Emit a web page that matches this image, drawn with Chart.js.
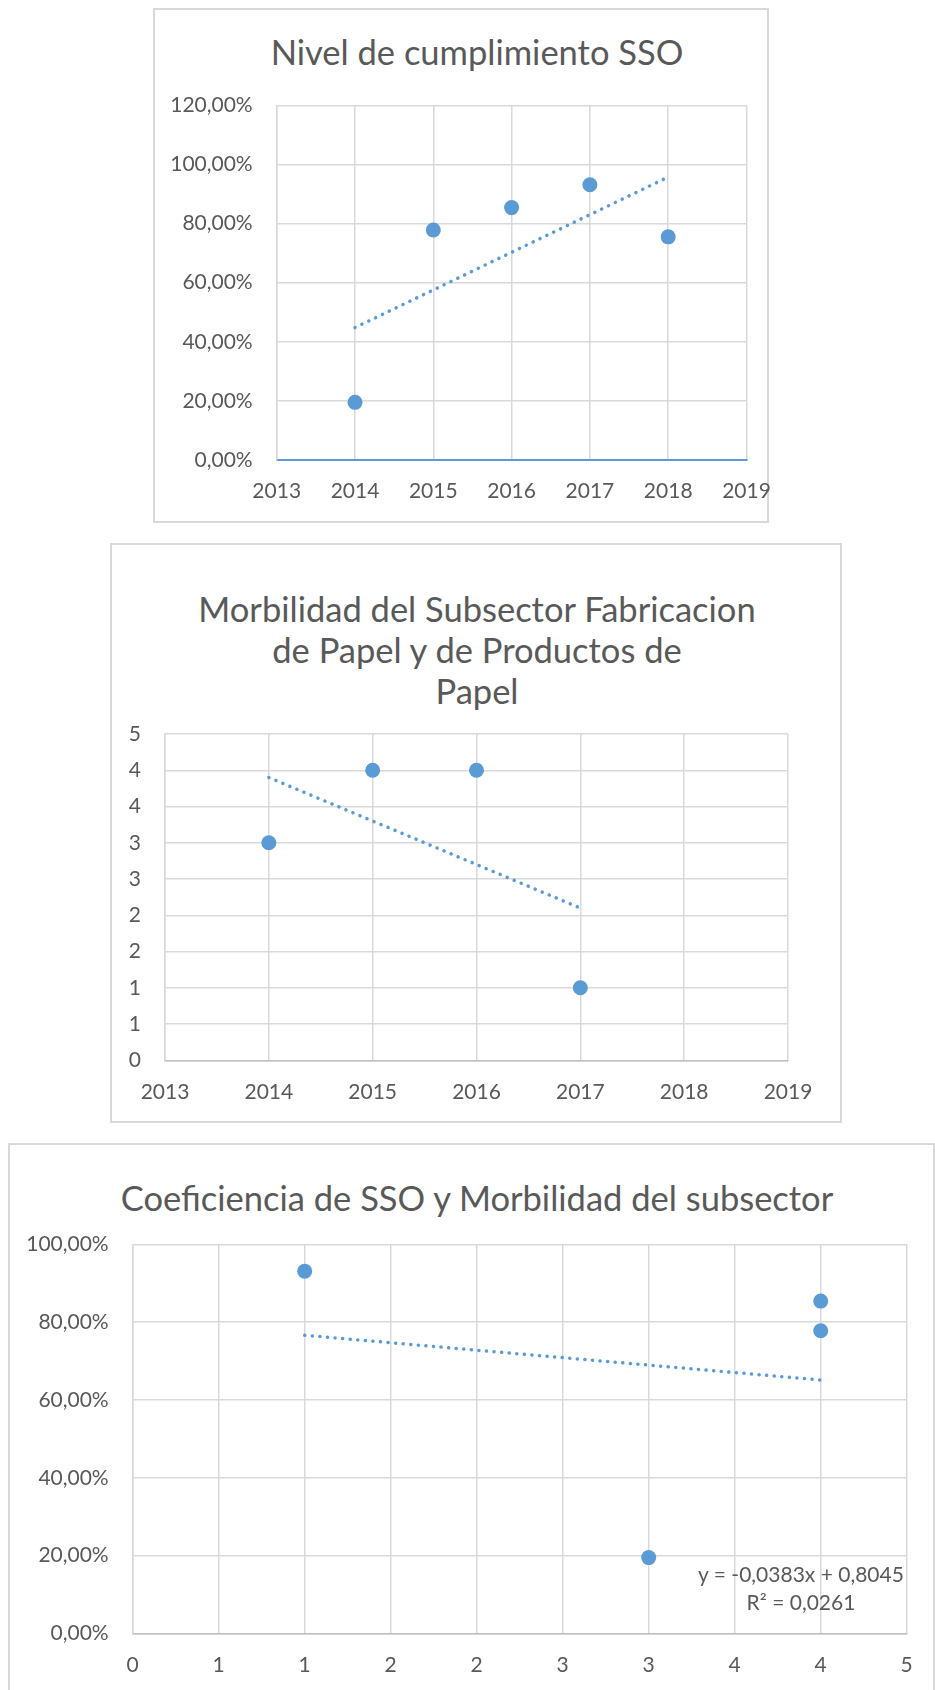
<!DOCTYPE html>
<html>
<head>
<meta charset="utf-8">
<title>Cumplimiento SSO y Morbilidad</title>
<script src="https://cdn.jsdelivr.net/npm/chart.js@4.4.1/dist/chart.umd.min.js"></script>
<style>
    body { margin: 0; background: #fff; width: 935px; height: 1690px; overflow: hidden; position: relative; font-family: Lato, "Open Sans", sans-serif; }
    .marco { position: absolute; border: 2px solid #D9D9D9; box-sizing: border-box; }
    .titulo { position: absolute; width: 900px; text-align: center; color: #595959; font-size: 34.5px; line-height: 41px; white-space: nowrap; }
    .ecuacion { position: absolute; width: 300px; text-align: center; color: #595959; font-size: 21px; line-height: 28px; }
    canvas { position: absolute; left: 0; }
</style>
</head>
<body>

<div class="marco" style="left:153px;top:8px;width:616px;height:515px"></div>
<div class="marco" style="left:110px;top:543px;width:732px;height:580px"></div>
<div class="marco" style="left:8px;top:1143px;width:927px;height:600px"></div>

<div class="titulo" style="left:27px;top:31px">Nivel de cumplimiento SSO</div>
<div class="titulo" style="left:27px;top:588px">Morbilidad del Subsector Fabricacion<br>de Papel y de Productos de<br>Papel</div>
<div class="titulo" style="left:27px;top:1177px">Coeficiencia de SSO y Morbilidad del subsector</div>

<canvas id="cumplimiento" style="top:0" width="935" height="530"></canvas>
<canvas id="morbilidad" style="top:530px" width="935" height="600"></canvas>
<canvas id="coeficiencia" style="top:1130px" width="935" height="560"></canvas>

<div class="ecuacion" id="ecuacion" style="left:651px;top:1560px"></div>

<script>
(function () {
    "use strict";

    // Nivel de cumplimiento SSO por año
    var anios = [2014, 2015, 2016, 2017, 2018];
    var cumplimiento = [0.195, 0.778, 0.854, 0.931, 0.755];

    // Morbilidad del subsector por año
    var aniosMorbilidad = [2014, 2015, 2016, 2017];
    var morbilidad = [3, 4, 4, 1];

    // Morbilidad (x) contra cumplimiento SSO (y), 2014-2017
    var coefMorbilidad = [3, 4, 4, 1];
    var coefCumplimiento = [0.195, 0.778, 0.854, 0.931];
    var coefPendiente = -0.0383;
    var coefIntercepto = 0.8045;
    var coefR2 = 0.0261;

    // Marcas de los ejes
    var ticksAnios = [2013, 2014, 2015, 2016, 2017, 2018, 2019];
    var ticksPorcentaje = [0, 0.2, 0.4, 0.6, 0.8, 1.0, 1.2];
    var ticksMorbilidad = [0, 0.5, 1, 1.5, 2, 2.5, 3, 3.5, 4, 4.5];
    var ticksCoefPorcentaje = [0, 0.2, 0.4, 0.6, 0.8, 1.0];

    var azul = "#5B9BD5";
    var texto = "#595959";
    var rejilla = "#D9D9D9";

    function porcentaje(v) {
        return (v * 100).toFixed(2).replace(".", ",") + "%";
    }
    function redondeo(v) {
        return String(Math.round(v));
    }
    function decimal(v) {
        return v.toFixed(4).replace(".", ",");
    }

    // Recta de minimos cuadrados
    function ajusteLineal(xs, ys) {
        var n = xs.length, mx = 0, my = 0, sxy = 0, sxx = 0;
        for (var i = 0; i < n; i++) { mx += xs[i] / n; my += ys[i] / n; }
        for (var j = 0; j < n; j++) {
            sxy += (xs[j] - mx) * (ys[j] - my);
            sxx += (xs[j] - mx) * (xs[j] - mx);
        }
        var m = sxy / sxx;
        return { m: m, b: my - m * mx };
    }

    function puntos(xs, ys) {
        return xs.map(function (x, i) { return { x: x, y: ys[i] }; });
    }

    function tendencia(xs, m, b) {
        var x0 = Math.min.apply(null, xs), x1 = Math.max.apply(null, xs);
        return [{ x: x0, y: m * x0 + b }, { x: x1, y: m * x1 + b }];
    }

    function eje(ticks, formato, extra) {
        var cfg = {
            type: "linear",
            min: ticks[0],
            max: ticks[ticks.length - 1],
            afterBuildTicks: function (s) {
                s.ticks = ticks.map(function (v) { return { value: v }; });
            },
            grid: { color: rejilla, lineWidth: 1.5, drawTicks: false },
            border: { color: rejilla, width: 1.5 },
            ticks: {
                color: texto,
                font: { family: "Lato", size: 21 },
                autoSkip: false,
                maxRotation: 0,
                callback: function (v) { return formato(v); }
            }
        };
        for (var k in extra) { cfg[k] = extra[k]; }
        return cfg;
    }

    // area: limites del area de trazado dentro del canvas
    function crearGrafico(id, datos, linea, ejeX, ejeY, area, alto) {
        ejeX.afterFit = function (s) {
            s.height = alto - area.bottom;
            s.paddingLeft = 0;
            s.paddingRight = 0;
        };
        ejeY.afterFit = function (s) {
            s.width = area.left;
            s.paddingTop = 0;
            s.paddingBottom = 0;
        };
        ejeX.ticks.padding = 19;
        ejeY.ticks.padding = 24;

        var ctx = document.getElementById(id).getContext("2d");
        return new Chart(ctx, {
            type: "scatter",
            data: {
                datasets: [{
                    data: datos,
                    backgroundColor: azul,
                    borderColor: azul,
                    borderWidth: 0,
                    pointRadius: 7.5
                }, {
                    data: linea,
                    showLine: true,
                    fill: false,
                    pointRadius: 0,
                    borderColor: azul,
                    borderWidth: 3.5,
                    borderDash: [0.1, 7.5],
                    borderCapStyle: "round"
                }]
            },
            options: {
                responsive: false,
                animation: false,
                events: [],
                layout: { padding: { left: 0, top: area.top, right: 935 - area.right, bottom: 0 } },
                plugins: { legend: { display: false }, tooltip: { enabled: false } },
                scales: { x: ejeX, y: ejeY }
            }
        });
    }

    // Nivel de cumplimiento SSO
    var t1 = ajusteLineal(anios, cumplimiento);
    crearGrafico("cumplimiento",
        puntos(anios, cumplimiento),
        tendencia(anios, t1.m, t1.b),
        eje(ticksAnios, String, { border: { color: azul, width: 2 } }),
        eje(ticksPorcentaje, porcentaje),
        { left: 276.7, right: 746.5, top: 105.3, bottom: 460 }, 530);

    // Morbilidad del subsector
    var t2 = ajusteLineal(aniosMorbilidad, morbilidad);
    crearGrafico("morbilidad",
        puntos(aniosMorbilidad, morbilidad),
        tendencia(aniosMorbilidad, t2.m, t2.b),
        eje(ticksAnios, String, { border: { color: "#BFBFBF", width: 1.5 } }),
        eje(ticksMorbilidad, redondeo),
        { left: 165, right: 788, top: 204, bottom: 530.3 }, 600);

    // Coeficiencia de SSO y morbilidad
    crearGrafico("coeficiencia",
        puntos(coefMorbilidad, coefCumplimiento),
        tendencia(coefMorbilidad, coefPendiente, coefIntercepto),
        eje(ticksMorbilidad, redondeo, { border: { color: "#BFBFBF", width: 1.5 } }),
        eje(ticksCoefPorcentaje, porcentaje),
        { left: 132.7, right: 906.7, top: 114.3, bottom: 503.5 }, 560);

    document.getElementById("ecuacion").innerHTML =
        "y = " + decimal(coefPendiente) + "x + " + decimal(coefIntercepto) +
        "<br>R² = " + decimal(coefR2);
})();
</script>
</body>
</html>
